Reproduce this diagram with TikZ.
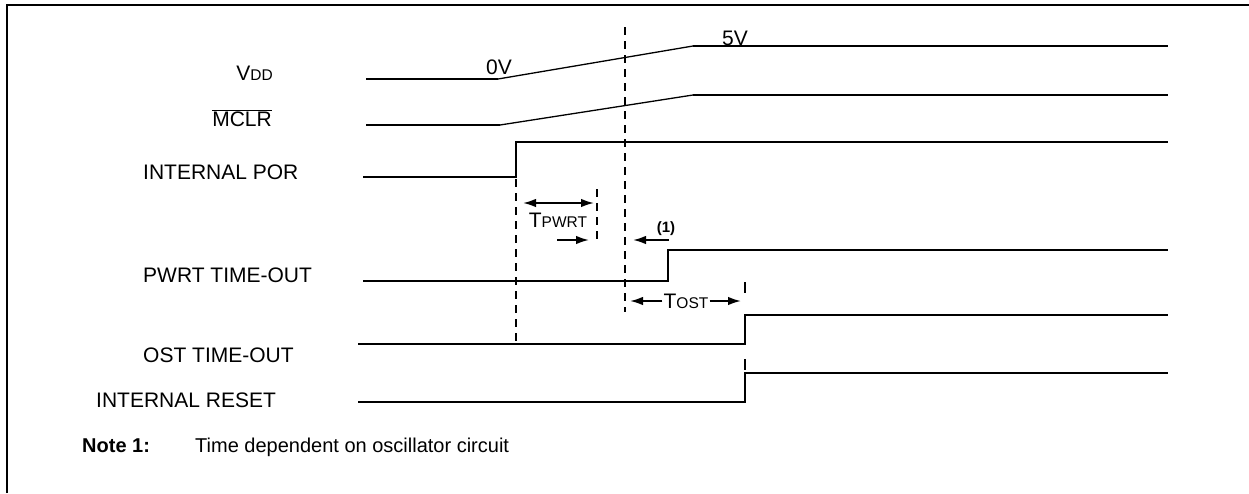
\documentclass[tikz,border=0pt]{standalone}
\usepackage{fontspec}
\setmainfont{Liberation Sans}
\usetikzlibrary{arrows.meta}
\begin{document}
\begin{tikzpicture}[x=1pt,y=-1pt,
  sig/.style={line width=1.8pt},
  ramp/.style={line width=1.3pt},
  vdash/.style={line width=1.6pt, dash pattern=on 8pt off 6pt},
  lbl/.style={font=\fontsize{21}{24}\selectfont, inner sep=0pt},
  arr/.style={line width=1.8pt, -{Latex[length=13pt,width=8.5pt]}},
  dim/.style={line width=1.8pt, {Latex[length=13pt,width=8.5pt]}-{Latex[length=13pt,width=8.5pt]}}]
\newcommand\smallcap[1]{{\fontsize{15.5}{17}\selectfont #1}}
\useasboundingbox (0,0) rectangle (1249,493);
% frame
\draw[line width=2.4pt] (7,493) -- (7,5) -- (1249,5);
% labels
\node[lbl, anchor=base east] (vdd) at (273,80) {V\smallcap{DD}};
\node[lbl, anchor=base east] (mclr) at (272,126) {$\overline{\hbox{MCLR}}$};
\node[lbl, anchor=base west] (por) at (143,179) {INTERNAL POR};
\node[lbl, anchor=base west] (pwrt) at (143,282) {PWRT TIME-OUT};
\node[lbl, anchor=base west] (ost) at (143,362) {OST TIME-OUT};
\node[lbl, anchor=base west] (rst) at (96,407) {INTERNAL RESET};
\node[lbl, anchor=base west, font=\fontsize{20}{23}\selectfont\bfseries] (note) at (82,452) {Note 1:};
\node[lbl, anchor=base west, font=\fontsize{20}{23}\selectfont] (notetxt) at (195,452) {Time dependent on oscillator circuit};
\node[lbl, anchor=base east] (zero) at (512,74) {0V};
\node[lbl, anchor=base west] (five) at (722,45) {5V};
% signals
\draw[sig] (366,79) -- (498,79);
\draw[ramp] (498,79) -- (693,46);
\draw[sig] (693,46) -- (1168,46);
\draw[sig] (366,125) -- (500,125);
\draw[ramp] (500,125) -- (693,95);
\draw[sig] (693,95) -- (1168,95);
\draw[sig] (363,177) -- (516,177) -- (516,142) -- (1168,142);
\draw[sig] (363,281) -- (668,281) -- (668,250) -- (1168,250);
\draw[sig] (358,344) -- (745,344) -- (745,315) -- (1168,315);
\draw[sig] (358,402) -- (745,402) -- (745,373) -- (1168,373);
% dashed guides
\draw[vdash] (516,179) -- (516,342);
\draw[vdash] (625,27) -- (625,312);
\draw[vdash] (597,189) -- (597,240);
\draw[line width=1.6pt, dash pattern=on 11pt off 27.5pt] (745,282) -- (745,373);
% TPWRT
\draw[dim] (523,203) -- (594,203);
\node[lbl, anchor=base] (tpwrt) at (558,227) {T\smallcap{PWRT}};
\draw[arr] (557,240) -- (589,240);
% note marker
\node[inner sep=0pt, font=\fontsize{15}{17}\selectfont\bfseries, anchor=base] (n1) at (666,232) {(1)};
\draw[arr] (669,240) -- (633,240);
% TOST
\node[lbl, anchor=base] (tost) at (686,308) {T\smallcap{OST}};
\draw[arr] ([xshift=-1pt]tost.west |- 0,301) -- (630,301);
\draw[arr] ([xshift=1pt]tost.east |- 0,301) -- (741,301);
\end{tikzpicture}
\end{document}
